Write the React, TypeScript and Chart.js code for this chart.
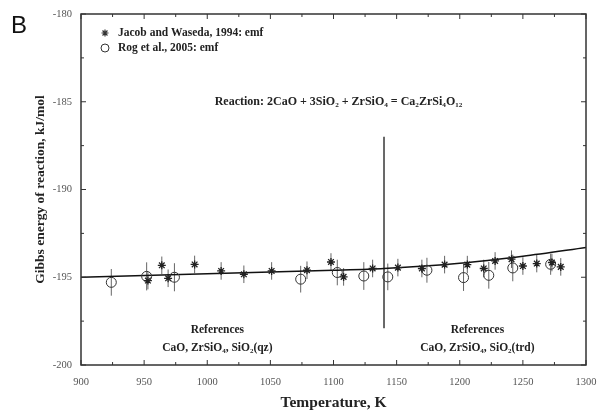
import React, { useEffect, useRef } from 'react';
import { Chart, registerables } from 'chart.js';

Chart.register(...registerables);

// Jacob and Waseda, 1994 (emf)
const jacobT = [953, 964, 969, 990, 1011, 1029, 1051, 1079, 1098, 1108, 1131, 1151, 1170, 1188, 1206, 1219, 1228, 1241, 1250, 1261, 1273, 1280];
const jacobG = [-195.19, -194.32, -195.06, -194.27, -194.64, -194.83, -194.64, -194.6, -194.13, -194.98, -194.5, -194.45, -194.5, -194.28, -194.28, -194.5, -194.07, -193.97, -194.36, -194.22, -194.16, -194.41];
const jacobErr = [0.5, 0.5, 0.5, 0.5, 0.5, 0.5, 0.5, 0.5, 0.5, 0.5, 0.5, 0.5, 0.5, 0.5, 0.5, 0.5, 0.5, 0.5, 0.5, 0.5, 0.5, 0.5];

// Rog et al., 2005 (emf)
const rogT = [924, 952, 974, 1074, 1103, 1124, 1143, 1174, 1203, 1223, 1242, 1272];
const rogG = [-195.29, -194.95, -195.0, -195.11, -194.73, -194.93, -194.98, -194.6, -195.02, -194.89, -194.47, -194.26];
const rogErr = [0.76, 0.8, 0.8, 0.76, 0.73, 0.79, 0.76, 0.71, 0.76, 0.76, 0.76, 0.6];

// assessed curve
const fitT = [900, 1000, 1100, 1140, 1200, 1250, 1300];
const fitG = [-195.0, -194.8, -194.6, -194.5, -194.2, -193.8, -193.3];

// quartz -> tridymite transition marker
const transitionT = 1140;
const transitionG = [-187.0, -197.9];

const xTicks = [900, 950, 1000, 1050, 1100, 1150, 1200, 1250, 1300];
const yTicks = [-180, -185, -190, -195, -200];

const legendLabels = ['Jacob and Waseda, 1994: emf', 'Rog et al., 2005: emf'];
const reactionText = 'Reaction: 2CaO + 3SiO\u2082 + ZrSiO\u2084 = Ca\u2082ZrSi\u2084O\u2081\u2082';
const refTitle = 'References';
const refLeft = 'CaO, ZrSiO\u2084, SiO\u2082(qz)';
const refRight = 'CaO, ZrSiO\u2084, SiO\u2082(trd)';
const panelLabel = 'B';

const SERIF = "'Liberation Serif', 'Times New Roman', serif";
const SANS = "'Liberation Sans', Arial, sans-serif";

function errorSegments(T: number[], G: number[], E: number[]) {
  const pts: any[] = [];
  T.forEach((t, i) => {
    pts.push({ x: t, y: G[i] - E[i] });
    pts.push({ x: t, y: G[i] + E[i] });
    pts.push({ x: t, y: null });
  });
  return pts;
}

function drawStar(ctx: CanvasRenderingContext2D, x: number, y: number, r: number) {
  ctx.beginPath();
  for (let k = 0; k < 4; k++) {
    const a = (k * Math.PI) / 4;
    ctx.moveTo(x - r * Math.cos(a), y - r * Math.sin(a));
    ctx.lineTo(x + r * Math.cos(a), y + r * Math.sin(a));
  }
  ctx.stroke();
}

const decorPlugin = {
  id: 'decor',
  afterDraw(chart: any) {
    const { ctx, chartArea: a, scales } = chart;
    const xs = scales.x;
    const ys = scales.y;
    ctx.save();
    // frame
    ctx.strokeStyle = '#333';
    ctx.lineWidth = 1.5;
    ctx.strokeRect(a.left, a.top, a.right - a.left, a.bottom - a.top);
    // inward tick marks
    ctx.lineWidth = 1;
    ctx.beginPath();
    const xv: number[] = xs.ticks.map((t: any) => t.value);
    xv.forEach((v, i) => {
      const px = xs.getPixelForValue(v);
      ctx.moveTo(px, a.bottom); ctx.lineTo(px, a.bottom - 5);
      ctx.moveTo(px, a.top); ctx.lineTo(px, a.top + 5);
      if (i < xv.length - 1) {
        const m = xs.getPixelForValue((v + xv[i + 1]) / 2);
        ctx.moveTo(m, a.bottom); ctx.lineTo(m, a.bottom - 3);
        ctx.moveTo(m, a.top); ctx.lineTo(m, a.top + 3);
      }
    });
    const yv: number[] = ys.ticks.map((t: any) => t.value);
    yv.forEach((v, i) => {
      const py = ys.getPixelForValue(v);
      ctx.moveTo(a.left, py); ctx.lineTo(a.left + 5, py);
      ctx.moveTo(a.right, py); ctx.lineTo(a.right - 5, py);
      if (i < yv.length - 1) {
        const m = ys.getPixelForValue((v + yv[i + 1]) / 2);
        ctx.moveTo(a.left, m); ctx.lineTo(a.left + 3, m);
        ctx.moveTo(a.right, m); ctx.lineTo(a.right - 3, m);
      }
    });
    ctx.stroke();

    // legend
    const lx = a.left + 24;
    ctx.strokeStyle = '#333';
    ctx.lineWidth = 1.2;
    drawStar(ctx, lx, 33, 3.5);
    ctx.lineWidth = 1;
    ctx.beginPath();
    ctx.arc(lx, 48, 4, 0, Math.PI * 2);
    ctx.stroke();
    ctx.fillStyle = '#222';
    ctx.font = `bold 11.5px ${SERIF}`;
    ctx.textAlign = 'left';
    ctx.textBaseline = 'middle';
    ctx.fillText(legendLabels[0], lx + 13, 33);
    ctx.fillText(legendLabels[1], lx + 13, 48);

    // annotations
    ctx.textAlign = 'center';
    ctx.font = `bold 12px ${SERIF}`;
    ctx.fillText(reactionText, xs.getPixelForValue(1104), ys.getPixelForValue(-185.0));
    ctx.font = `bold 11.5px ${SERIF}`;
    ctx.fillText(refTitle, xs.getPixelForValue(1008), ys.getPixelForValue(-198.0));
    ctx.fillText(refLeft, xs.getPixelForValue(1008), ys.getPixelForValue(-199.05));
    ctx.fillText(refTitle, xs.getPixelForValue(1214), ys.getPixelForValue(-198.0));
    ctx.fillText(refRight, xs.getPixelForValue(1214), ys.getPixelForValue(-199.05));

    // panel label
    ctx.font = `24px ${SANS}`;
    ctx.fillStyle = '#111';
    ctx.fillText(panelLabel, 19, 26);
    ctx.restore();
  },
};

export default function App() {
  const ref = useRef<HTMLCanvasElement | null>(null);
  useEffect(() => {
    if (!ref.current) return;
    const chart = new Chart(ref.current, {
      type: 'scatter',
      data: {
        datasets: [
          {
            label: legendLabels[0],
            data: jacobT.map((t, i) => ({ x: t, y: jacobG[i] })),
            pointStyle: 'star',
            pointRadius: 4,
            borderColor: '#222',
            backgroundColor: '#222',
            borderWidth: 1.3,
            order: 0,
          } as any,
          {
            label: legendLabels[1],
            data: rogT.map((t, i) => ({ x: t, y: rogG[i] })),
            pointStyle: 'circle',
            pointRadius: 5,
            borderColor: '#333',
            backgroundColor: 'rgba(255,255,255,0)',
            borderWidth: 1,
            order: 0,
          } as any,
          {
            label: 'fit',
            data: fitT.map((t, i) => ({ x: t, y: fitG[i] })),
            showLine: true,
            tension: 0.3,
            pointRadius: 0,
            borderColor: '#111',
            borderWidth: 1.5,
            order: 1,
          } as any,
          {
            label: 'err-jacob',
            data: errorSegments(jacobT, jacobG, jacobErr),
            showLine: true,
            spanGaps: false,
            pointRadius: 0,
            borderColor: '#666',
            borderWidth: 1,
            order: 2,
          } as any,
          {
            label: 'err-rog',
            data: errorSegments(rogT, rogG, rogErr),
            showLine: true,
            spanGaps: false,
            pointRadius: 0,
            borderColor: '#666',
            borderWidth: 1,
            order: 2,
          } as any,
          {
            label: 'transition',
            data: transitionG.map((g) => ({ x: transitionT, y: g })),
            showLine: true,
            pointRadius: 0,
            borderColor: '#555',
            borderWidth: 1,
            order: 2,
          } as any,
        ],
      },
      options: {
        animation: false,
        responsive: false,
        maintainAspectRatio: false,
        layout: { padding: { top: 14, right: 17, left: 0, bottom: 0 } },
        plugins: { legend: { display: false }, tooltip: { enabled: false } },
        scales: {
          x: {
            type: 'linear',
            min: 900,
            max: 1300,
            afterBuildTicks: (s: any) => { s.ticks = xTicks.map((v) => ({ value: v })); },
            afterFit: (s: any) => { s.height = 47; },
            ticks: { font: { family: SERIF, size: 10.5 }, color: '#555', padding: 3, maxRotation: 0, autoSkip: false, callback: (v: any) => String(v) },
            grid: { display: false },
            border: { display: false },
            title: { display: true, text: 'Temperature, K', font: { family: SERIF, size: 15.5, weight: 'bold' }, color: '#222', padding: { top: 0, bottom: 0 } },
          },
          y: {
            type: 'linear',
            min: -200,
            max: -180,
            afterBuildTicks: (s: any) => { s.ticks = yTicks.map((v) => ({ value: v })); },
            afterFit: (s: any) => { s.width = 81; },
            ticks: { font: { family: SERIF, size: 10.5 }, color: '#555', padding: 1, autoSkip: false, callback: (v: any) => String(v) },
            grid: { display: false },
            border: { display: false },
            title: { display: true, text: 'Gibbs energy of reaction, kJ/mol', font: { family: SERIF, size: 13.5, weight: 'bold' }, color: '#222', padding: { top: 32, bottom: 0 } },
          },
        },
      },
      plugins: [decorPlugin],
    } as any);
    return () => chart.destroy();
  }, []);
  return (
    <div style={{ position: 'fixed', left: 0, top: 0, width: 603, height: 412, background: '#fff' }}>
      <canvas ref={ref} width={603} height={412} />
    </div>
  );
}
